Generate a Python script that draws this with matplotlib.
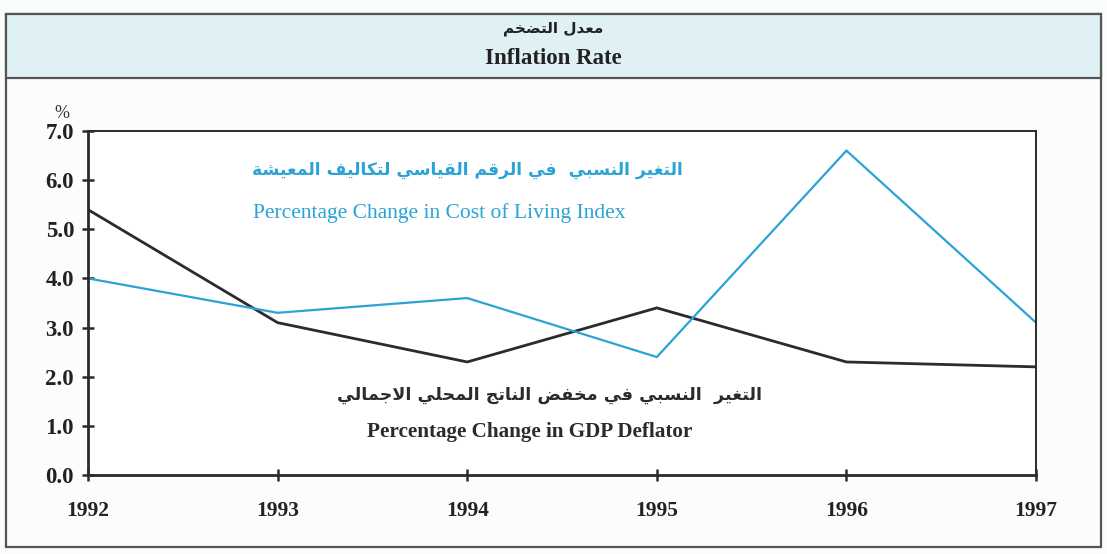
import matplotlib
matplotlib.use('Agg')
import matplotlib.pyplot as plt
from matplotlib.patches import Rectangle

# data
years = [1992, 1993, 1994, 1995, 1996, 1997]
cost_of_living = [4.0, 3.3, 3.6, 2.4, 6.6, 3.1]
gdp_deflator = [5.4, 3.1, 2.3, 3.4, 2.3, 2.2]
y_ticks = [0, 1, 2, 3, 4, 5, 6, 7]

title_ar = 'معدل التضخم'
title_en = 'Inflation Rate'
col_ar = 'التغير النسبي  في الرقم القياسي لتكاليف المعيشة'
col_en = 'Percentage Change in Cost of Living Index'
gdp_ar = 'التغير  النسبي في مخفض الناتج المحلي الاجمالي'
gdp_en = 'Percentage Change in GDP Deflator'

BLUE = '#2aa3d5'
DARK = '#2b2b2b'
SERIF = ['Liberation Serif', 'DejaVu Serif']
ARABIC = ['DejaVu Sans']

# matplotlib has no arabic shaping, so pick presentation forms by hand
DUAL = {'ب': 0xFE8F, 'ت': 0xFE95, 'ث': 0xFE99, 'ج': 0xFE9D, 'ح': 0xFEA1,
        'خ': 0xFEA5, 'س': 0xFEB1, 'ش': 0xFEB5, 'ص': 0xFEB9, 'ض': 0xFEBD,
        'ط': 0xFEC1, 'ظ': 0xFEC5, 'ع': 0xFEC9, 'غ': 0xFECD, 'ف': 0xFED1,
        'ق': 0xFED5, 'ك': 0xFED9, 'ل': 0xFEDD, 'م': 0xFEE1, 'ن': 0xFEE5,
        'ه': 0xFEE9, 'ي': 0xFEF1}
RIGHT = {'ا': 0xFE8D, 'د': 0xFEA9, 'ذ': 0xFEAB, 'ر': 0xFEAD, 'ز': 0xFEAF,
         'و': 0xFEED, 'ة': 0xFE93, 'ى': 0xFEEF}


def shape(text):
    out = []
    prev_joins = False
    i = 0
    while i < len(text):
        c = text[i]
        nxt = text[i + 1] if i + 1 < len(text) else ''
        if c == 'ل' and nxt == 'ا':
            out.append(chr(0xFEFC if prev_joins else 0xFEFB))
            prev_joins = False
            i += 2
            continue
        if c in DUAL:
            base = DUAL[c]
            nj = nxt in DUAL or nxt in RIGHT
            if prev_joins and nj:
                out.append(chr(base + 3))
            elif prev_joins:
                out.append(chr(base + 1))
            elif nj:
                out.append(chr(base + 2))
            else:
                out.append(chr(base))
            prev_joins = True
        elif c in RIGHT:
            out.append(chr(RIGHT[c] + 1 if prev_joins else RIGHT[c]))
            prev_joins = False
        else:
            out.append(c)
            prev_joins = False
        i += 1
    return ''.join(reversed(out))


fig = plt.figure(figsize=(11.07, 5.54), dpi=100)
fig.patch.set_facecolor('#fbfdfd')

# frame and title band
fig.patches.append(Rectangle((0.005, 0.012), 0.99, 0.962, transform=fig.transFigure,
                             fill=False, edgecolor='#555555', linewidth=1.6))
fig.patches.append(Rectangle((0.005, 0.859), 0.99, 0.115, transform=fig.transFigure,
                             facecolor='#dff1f5', edgecolor='#555555', linewidth=1.6))
fig.text(0.5, 0.948, shape(title_ar), family=ARABIC, fontweight='bold', fontsize=11,
         ha='center', va='center', color='#222222')
fig.text(0.5, 0.895, title_en, family=SERIF, fontweight='bold', fontsize=16.5,
         ha='center', va='center', color='#222222')

ax = fig.add_axes([0.0795, 0.1426, 0.8564, 0.621])
ax.set_facecolor('white')
ax.plot(years, gdp_deflator, color=DARK, linewidth=2.0, solid_joinstyle='miter')
ax.plot(years, cost_of_living, color=BLUE, linewidth=1.6, solid_joinstyle='miter')

ax.set_xlim(years[0], years[-1])
ax.set_ylim(y_ticks[0], y_ticks[-1])
ax.set_xticks(years)
ax.set_yticks(y_ticks)
ax.set_yticklabels([f'{v:.1f}' for v in y_ticks])
for lab in ax.get_yticklabels():
    lab.set_family(SERIF)
    lab.set_fontweight('bold')
    lab.set_fontsize(16.5)
    lab.set_color('#222222')
for lab in ax.get_xticklabels():
    lab.set_family(SERIF)
    lab.set_fontweight('bold')
    lab.set_fontsize(15.5)
    lab.set_color('#222222')
ax.tick_params(axis='both', direction='inout', length=8, width=1.8, color=DARK)
ax.tick_params(axis='x', pad=15)
ax.tick_params(axis='y', pad=6)
for side in ['left', 'bottom']:
    ax.spines[side].set_linewidth(2.0)
    ax.spines[side].set_color(DARK)
for side in ['top', 'right']:
    ax.spines[side].set_linewidth(1.4)
    ax.spines[side].set_color(DARK)

ax.text(-0.028, 1.05, '%', transform=ax.transAxes, family=SERIF, fontsize=13,
        ha='center', va='center', color='#333333')

# series labels
ax.text(0.627, 0.887, shape(col_ar), transform=ax.transAxes, family=ARABIC,
        fontweight='bold', fontsize=12.3, color=BLUE, ha='right', va='center')
ax.text(0.174, 0.762, col_en, transform=ax.transAxes, family=SERIF,
        fontsize=15.5, color=BLUE, ha='left', va='center')
ax.text(0.711, 0.233, shape(gdp_ar), transform=ax.transAxes, family=ARABIC,
        fontweight='bold', fontsize=12.6, color=DARK, ha='right', va='center')
ax.text(0.294, 0.125, gdp_en, transform=ax.transAxes, family=SERIF,
        fontweight='bold', fontsize=15.2, color=DARK, ha='left', va='center')

fig.savefig('out.png', dpi=100, facecolor=fig.get_facecolor())
